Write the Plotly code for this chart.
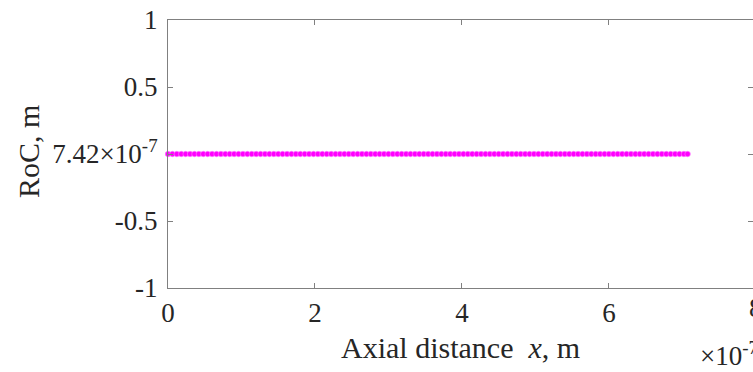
import plotly.graph_objects as go

# Data (x in units of 1e-7 m)
x_scaled = [0.00, 0.06, 0.12, 0.18, 0.24, 0.30, 0.36, 0.42, 0.48, 0.54,
            0.60, 0.66, 0.72, 0.78, 0.84, 0.90, 0.96, 1.02, 1.08, 1.14,
            1.20, 1.26, 1.32, 1.38, 1.44, 1.50, 1.56, 1.62, 1.68, 1.74,
            1.80, 1.86, 1.92, 1.98, 2.04, 2.10, 2.16, 2.22, 2.28, 2.34,
            2.40, 2.46, 2.52, 2.58, 2.64, 2.70, 2.76, 2.82, 2.88, 2.94,
            3.00, 3.06, 3.12, 3.18, 3.24, 3.30, 3.36, 3.42, 3.48, 3.54,
            3.60, 3.66, 3.72, 3.78, 3.84, 3.90, 3.96, 4.02, 4.08, 4.14,
            4.20, 4.26, 4.32, 4.38, 4.44, 4.50, 4.56, 4.62, 4.68, 4.74,
            4.80, 4.86, 4.92, 4.98, 5.04, 5.10, 5.16, 5.22, 5.28, 5.34,
            5.40, 5.46, 5.52, 5.58, 5.64, 5.70, 5.76, 5.82, 5.88, 5.94,
            6.00, 6.06, 6.12, 6.18, 6.24, 6.30, 6.36, 6.42, 6.48, 6.54,
            6.60, 6.66, 6.72, 6.78, 6.84, 6.90, 6.96, 7.02, 7.07]
roc_value = 7.42e-7
y_values = [roc_value for _ in x_scaled]
x_values = [v * 1e-7 for v in x_scaled]

x_tickvals = [0, 2e-7, 4e-7, 6e-7]
x_ticktext = ["0", "2", "4", "6"]
y_tickvals = [-1, -0.5, roc_value, 0.5, 1]
y_ticktext = ["-1", "-0.5", "7.42×10<sup>-7</sup>", "0.5", "1"]

FONT = "Liberation Serif, Times New Roman, serif"
AX = "#808080"
TXT = "#262626"
TICK_SIZE = 27
LABEL_SIZE = 30

fig = go.Figure()
fig.add_trace(go.Scatter(
    x=x_values, y=y_values, mode="markers",
    marker=dict(color="#ff00ff", size=5.5, line=dict(width=0.6, color="#ff80ff")),
    showlegend=False, cliponaxis=False,
))

fig.update_layout(
    width=753, height=372,
    margin=dict(l=168, r=0, t=20, b=84),
    plot_bgcolor="white", paper_bgcolor="white",
    font=dict(family=FONT, size=TICK_SIZE, color=TXT),
    xaxis=dict(
        range=[0, 7.96e-7], tickvals=x_tickvals, ticktext=x_ticktext,
        ticks="inside", ticklen=5, tickcolor=AX, tickwidth=1,
        showline=True, linecolor=AX, linewidth=1, mirror="ticks",
        showgrid=False, zeroline=False, ticklabelstandoff=1,
        tickfont=dict(family=FONT, size=TICK_SIZE, color=TXT),
    ),
    yaxis=dict(
        range=[-1, 1], tickvals=y_tickvals, ticktext=y_ticktext,
        ticks="inside", ticklen=5, tickcolor=AX, tickwidth=1,
        showline=True, linecolor=AX, linewidth=1,
        showgrid=False, zeroline=False, ticklabelstandoff=4,
        tickfont=dict(family=FONT, size=TICK_SIZE, color=TXT),
    ),
    yaxis2=dict(
        range=[-1, 1], tickvals=y_tickvals, overlaying="y", side="right",
        ticks="inside", ticklen=5, tickcolor=AX, tickwidth=1,
        showline=False, showticklabels=False, showgrid=False, zeroline=False,
    ),
)
# dummy trace to activate yaxis2
fig.add_trace(go.Scatter(x=[None], y=[None], yaxis="y2", showlegend=False))

fig.add_annotation(x=1.0051, y=0, xref="paper", yref="paper",
                   text="8", showarrow=False, xanchor="center", yanchor="top",
                   yshift=-3, font=dict(family=FONT, size=TICK_SIZE, color=TXT))
fig.add_annotation(x=0.5, y=(288 - 347) / 268, xref="paper", yref="paper",
                   text="Axial distance&nbsp;&nbsp;<i>x</i>, m", showarrow=False,
                   xanchor="center", yanchor="middle",
                   font=dict(family=FONT, size=LABEL_SIZE, color=TXT))
fig.add_annotation(x=1.0, y=(288 - 354) / 268, xref="paper", yref="paper",
                   text="×10<sup>-7</sup>", showarrow=False,
                   xanchor="right", yanchor="middle", xshift=7,
                   font=dict(family=FONT, size=TICK_SIZE, color=TXT))
fig.add_annotation(x=(28 - 168) / 585, y=(288 - 152) / 268, xref="paper", yref="paper",
                   text="RoC, m", showarrow=False, textangle=-90,
                   xanchor="center", yanchor="middle",
                   font=dict(family=FONT, size=LABEL_SIZE, color=TXT))

fig.write_html("out.html")
